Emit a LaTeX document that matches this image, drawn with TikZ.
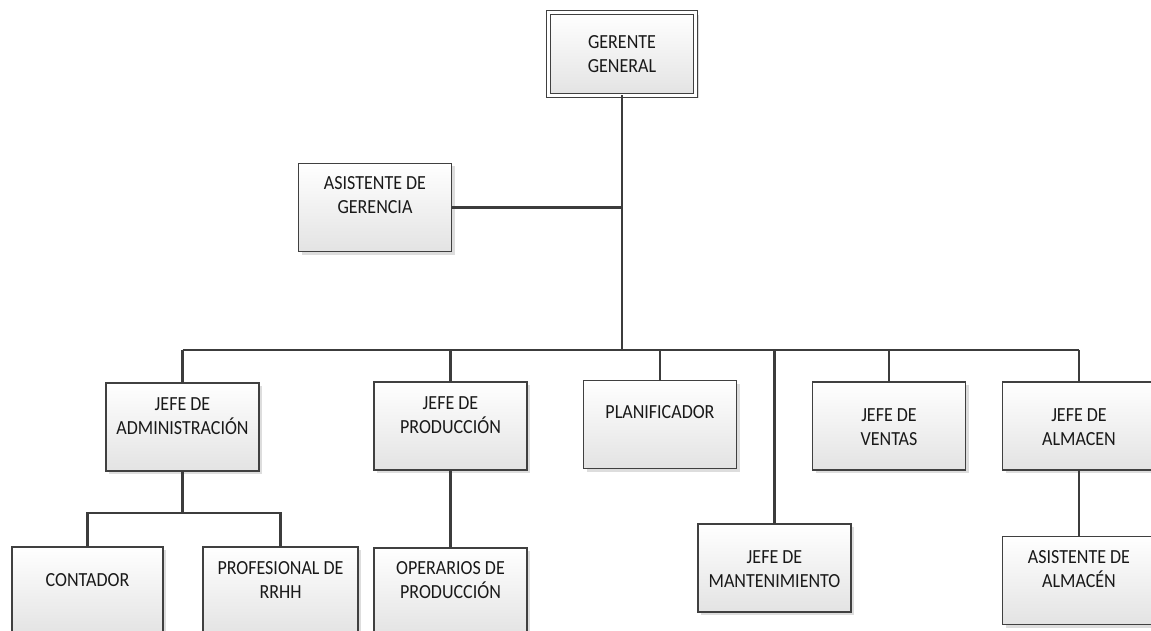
\documentclass[tikz,border=0pt]{standalone}
\usepackage{fontspec}
\setmainfont{Carlito}
\newfontfamily\boxfont[FakeStretch=0.9]{Carlito}
\usetikzlibrary{shadows}
\definecolor{bordc}{HTML}{404040}
\definecolor{connc}{HTML}{3C3C3C}
\tikzset{
  box/.style={draw=bordc, line width=1.4pt, top color=white, bottom color=black!11,
    minimum width=153pt, minimum height=88pt, inner sep=0pt, outer sep=0pt,
    drop shadow={shadow xshift=3pt, shadow yshift=-3pt, fill=black!22, draw=none, opacity=0.6}},
  dbox/.style={box, double=white, double distance=2.6pt, line width=1.2pt,
    minimum width=147pt, minimum height=83pt},
  txt/.style={font=\boxfont\fontsize{20}{24}\selectfont, text=black!90, align=center, anchor=center, inner sep=0pt},
  conn/.style={draw=connc, line width=2.2pt}
}
\begin{document}
\begin{tikzpicture}[x=1pt,y=-1pt]
\useasboundingbox (0,0) rectangle (1151,631);
\clip (0,0) rectangle (1151,631);
\fill[white] (0,0) rectangle (1151,631);

% top level
\node[dbox, label={[txt, yshift=0pt]center:{GERENTE\\GENERAL}}] (gg) at (622,54) {};
\node[box, label={[txt, yshift=-32pt]north:{ASISTENTE DE\\GERENCIA}}] (ag) at (375,207.5) {};

% second level
\node[box, label={[txt, yshift=-33.5pt]north:{JEFE DE\\ADMINISTRACIÓN}}] (adm) at (182.5,427) {};
\node[box, label={[txt, yshift=-33.5pt]north:{JEFE DE\\PRODUCCIÓN}}] (prod) at (450.5,426) {};
\node[box, label={[txt, yshift=-32pt]north:{PLANIFICADOR}}] (plan) at (660,424.5) {};
\node[box, label={[txt, yshift=-45pt]north:{JEFE DE\\MANTENIMIENTO}}] (mant) at (774.5,568) {};
\node[box, label={[txt, yshift=-45pt]north:{JEFE DE\\VENTAS}}] (vent) at (889,426) {};
\node[box, label={[txt, yshift=-45pt]north:{JEFE DE\\ALMACEN}}] (alm) at (1079,426) {};

% third level
\node[box, minimum width=151pt, label={[txt, yshift=-33pt]north:{CONTADOR}}] (cont) at (87.5,591) {};
\node[box, minimum width=155pt, label={[txt, yshift=-33pt]north:{PROFESIONAL DE\\RRHH}}] (rrhh) at (280.5,591) {};
\node[box, label={[txt, yshift=-32pt]north:{OPERARIOS DE\\PRODUCCIÓN}}] (oper) at (450.5,592) {};
\node[box, label={[txt, yshift=-33pt]north:{ASISTENTE DE\\ALMACÉN}}] (asalm) at (1079,580.5) {};

% bus coordinates
\coordinate (busL) at (182.5,350);
\coordinate (busR) at (1079,350);
\coordinate (admbus) at (182.5,513);

% connectors
\draw[conn] (busL) -- (busR);
\draw[conn] (gg.south) -- (gg.south |- busL);
\draw[conn] (ag.east) -- (ag.east -| gg.south);
\draw[conn] (adm.north) -- (adm.north |- busL);
\draw[conn] (prod.north) -- (prod.north |- busL);
\draw[conn] (plan.north) -- (plan.north |- busL);
\draw[conn] (mant.north) -- (mant.north |- busL);
\draw[conn] (vent.north) -- (vent.north |- busL);
\draw[conn] (alm.north) -- (alm.north |- busL);
\draw[conn] (adm.south) -- (admbus);
\draw[conn] (cont.north) |- (admbus) -| (rrhh.north);
\draw[conn] (prod.south) -- (oper.north);
\draw[conn] (alm.south) -- (asalm.north);
\end{tikzpicture}
\end{document}
